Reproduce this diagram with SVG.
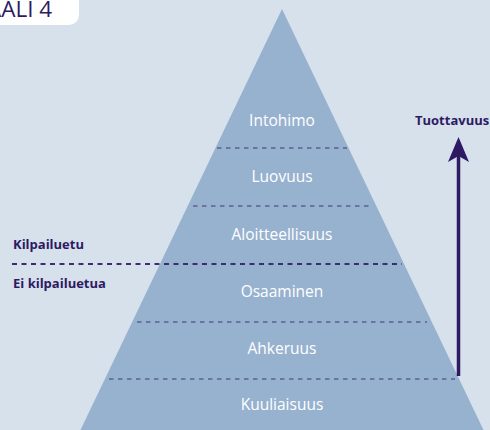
<svg xmlns="http://www.w3.org/2000/svg" width="490" height="430" viewBox="0 0 490 430">
<defs>
<style>
.lvl{font-family:"Open Sans","Lato",sans-serif;font-size:15.5px;fill:#ffffff;text-anchor:middle}
.sep{stroke:#5d6092;stroke-width:1.3;stroke-dasharray:4.5 4.5;fill:none}
.lab{font-family:"Open Sans","Lato",sans-serif;font-size:13px;font-weight:bold;fill:#2e1a62}
</style>
</defs>
<rect x="0" y="0" width="490" height="430" fill="#d6e1ec"/>
<g id="badge">
<path d="M-10,-10 H79 V15 A10,10 0 0 1 69,25 H-10 Z" fill="#ffffff"/>
<text x="-13" y="17" font-family="'Open Sans', Lato, sans-serif" font-size="22.5" fill="#2e1a62">AALI 4</text>
</g>
<g id="pyramid">
<polygon points="282,9 484,431 80,431" fill="#97b2cf"/>
</g>
<g id="connectors">
<line class="sep" x1="217" y1="148" x2="347" y2="148"/>
<line class="sep" x1="193" y1="206" x2="371" y2="206"/>
<line class="sep" x1="137" y1="322" x2="427" y2="322"/>
<line class="sep" x1="109" y1="379" x2="455" y2="379"/>
<line x1="12" y1="264" x2="402" y2="264" stroke="#3c2d6e" stroke-width="2" stroke-dasharray="5 4.5"/>
<line x1="458.5" y1="376" x2="458.5" y2="155" stroke="#2e1a62" stroke-width="3.5"/>
<path d="M458.5,137 L469,162 L458.5,156 L448,162 Z" fill="#2e1a62"/>
</g>
<g id="n-intohimo"><text class="lvl" x="282" y="126">Intohimo</text></g>
<g id="n-luovuus"><text class="lvl" x="282" y="182">Luovuus</text></g>
<g id="n-aloitteellisuus"><text class="lvl" x="282" y="240">Aloitteellisuus</text></g>
<g id="n-osaaminen"><text class="lvl" x="282" y="297">Osaaminen</text></g>
<g id="n-ahkeruus"><text class="lvl" x="282" y="354">Ahkeruus</text></g>
<g id="n-kuuliaisuus"><text class="lvl" x="282" y="410">Kuuliaisuus</text></g>
<g id="n-kilpailuetu"><text class="lab" x="13" y="249">Kilpailuetu</text></g>
<g id="n-eikilpailuetua"><text class="lab" x="13" y="288">Ei kilpailuetua</text></g>
<g id="n-tuottavuus"><text class="lab" x="415" y="125">Tuottavuus</text></g>
</svg>
